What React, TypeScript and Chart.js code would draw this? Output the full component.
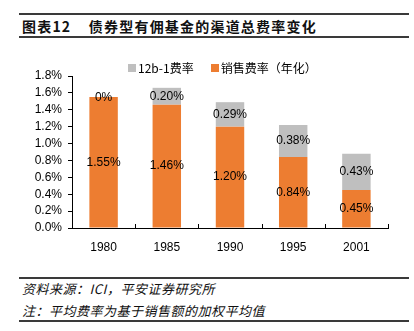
import React, { useEffect, useRef } from "react";
import { Chart, registerables } from "chart.js";

Chart.register(...registerables);

const categories = ["1980", "1985", "1990", "1995", "2001"];
const salesFee = [1.55, 1.46, 1.2, 0.84, 0.45];
const fee12b1 = [0, 0.2, 0.29, 0.38, 0.43];
const yTicks = [0, 0.2, 0.4, 0.6, 0.8, 1.0, 1.2, 1.4, 1.6, 1.8];

const ORANGE = "#ED7D31";
const GRAY = "#BFBFBF";
const NUM_FONT = "'Liberation Sans', Arial, sans-serif";
const CJK_FONT = "'Noto Sans CJK SC', 'Liberation Sans', sans-serif";

const labelPlugin = {
  id: "segLabels",
  afterDatasetsDraw(chart: any) {
    const ctx = chart.ctx;
    ctx.save();
    ctx.font = `12px ${NUM_FONT}`;
    ctx.fillStyle = "#000";
    ctx.textAlign = "center";
    ctx.textBaseline = "middle";
    chart.data.datasets.forEach((ds: any, di: number) => {
      const meta = chart.getDatasetMeta(di);
      meta.data.forEach((el: any, i: number) => {
        const v = ds.data[i];
        const txt = v === 0 ? "0%" : v.toFixed(2) + "%";
        const y = (el.y + el.base) / 2;
        ctx.fillText(txt, el.x, y + (v === 0 ? 1 : 0));
      });
    });
    ctx.restore();
  },
};

const xTickPlugin = {
  id: "xInnerTicks",
  afterDraw(chart: any) {
    const ctx = chart.ctx;
    const xs = chart.scales.x;
    const bottom = chart.chartArea.bottom;
    const n = categories.length;
    ctx.save();
    ctx.strokeStyle = "#000";
    ctx.lineWidth = 1;
    for (let i = 0; i < n; i++) {
      const a = xs.getPixelForValue(i);
      const b = i < n - 1 ? xs.getPixelForValue(i + 1) : a + (a - xs.getPixelForValue(i - 1));
      const x = Math.round((a + b) / 2) + 0.5;
      ctx.beginPath();
      ctx.moveTo(x, bottom);
      ctx.lineTo(x, bottom - 4);
      ctx.stroke();
    }
    ctx.restore();
  },
};

function ChartBox() {
  const ref = useRef<HTMLCanvasElement>(null);
  useEffect(() => {
    if (!ref.current) return;
    const chart = new Chart(ref.current, {
      type: "bar",
      data: {
        labels: categories,
        datasets: [
          {
            label: "销售费率（年化）",
            data: salesFee,
            backgroundColor: ORANGE,
            barPercentage: 0.9,
            categoryPercentage: 0.5,
          },
          {
            label: "12b-1费率",
            data: fee12b1,
            backgroundColor: GRAY,
            barPercentage: 0.9,
            categoryPercentage: 0.5,
          },
        ],
      },
      options: {
        animation: false,
        responsive: false,
        maintainAspectRatio: false,
        layout: { padding: { left: 0, right: 26, top: 26, bottom: 0 } },
        plugins: {
          legend: { display: false },
          tooltip: { enabled: false },
        },
        scales: {
          x: {
            stacked: true,
            grid: { display: false },
            border: { display: true, color: "#000", width: 1 },
            ticks: {
              color: "#000",
              font: { size: 12, family: NUM_FONT },
              padding: 4,
            },
            afterFit: (s: any) => {
              s.height = 32;
            },
          },
          y: {
            stacked: true,
            min: 0,
            max: 1.8,
            afterBuildTicks: (s: any) => {
              s.ticks = yTicks.map((v) => ({ value: v }));
            },
            grid: {
              drawOnChartArea: false,
              drawTicks: true,
              tickLength: 4,
              color: "#000",
            },
            border: { display: true, color: "#000", width: 1 },
            ticks: {
              color: "#000",
              autoSkip: false,
              font: { size: 12, family: NUM_FONT },
              padding: 6,
              callback: (v: any) => Number(v).toFixed(1) + "%",
            },
            afterFit: (s: any) => {
              s.width = 72;
            },
          },
        },
      },
      plugins: [labelPlugin, xTickPlugin],
    });
    return () => chart.destroy();
  }, []);
  return (
    <canvas
      ref={ref}
      width={414}
      height={210}
      style={{ position: "absolute", left: 0, top: 50, width: 414, height: 210 }}
    />
  );
}

export default function App() {
  const line = (top: number) => (
    <div
      style={{
        position: "absolute",
        left: 19,
        width: 390,
        top,
        height: 2,
        background: "#3a3a3a",
      }}
    />
  );
  return (
    <div
      style={{
        position: "absolute",
        left: 0,
        top: 0,
        width: 414,
        height: 331,
        background: "#fff",
        overflow: "hidden",
      }}
    >
      {line(13)}
      <div
        style={{
          position: "absolute",
          left: 22,
          top: 17,
          fontFamily: CJK_FONT,
          fontWeight: 700,
          fontSize: 14,
          lineHeight: "18px",
          letterSpacing: 1.2,
          whiteSpace: "nowrap",
          color: "#111",
        }}
      >
        图表12&nbsp;&nbsp;&nbsp;&nbsp;债券型有佣基金的渠道总费率变化
      </div>
      {line(36)}
      <ChartBox />
      <div
        style={{
          position: "absolute",
          top: 61,
          left: 128,
          fontFamily: CJK_FONT,
          fontSize: 12,
          lineHeight: "14px",
          whiteSpace: "nowrap",
          color: "#000",
          display: "flex",
          alignItems: "center",
        }}
      >
        <span style={{ display: "inline-block", width: 8, height: 8, background: GRAY, marginRight: 2 }} />
        <span>12b-1费率</span>
        <span style={{ display: "inline-block", width: 8, height: 8, background: ORANGE, marginLeft: 17, marginRight: 2 }} />
        <span>销售费率（年化）</span>
      </div>
      {line(277)}
      <div
        style={{
          position: "absolute",
          left: 22,
          top: 281,
          fontFamily: CJK_FONT,
          fontStyle: "italic",
          fontSize: 13,
          lineHeight: "16px",
          letterSpacing: 0.5,
          whiteSpace: "nowrap",
          color: "#111",
        }}
      >
        资料来源：ICI，平安证券研究所
      </div>
      <div
        style={{
          position: "absolute",
          left: 22,
          top: 303,
          fontFamily: CJK_FONT,
          fontStyle: "italic",
          fontSize: 13,
          lineHeight: "16px",
          letterSpacing: 0.5,
          whiteSpace: "nowrap",
          color: "#111",
        }}
      >
        注：平均费率为基于销售额的加权平均值
      </div>
      {line(320)}
    </div>
  );
}
